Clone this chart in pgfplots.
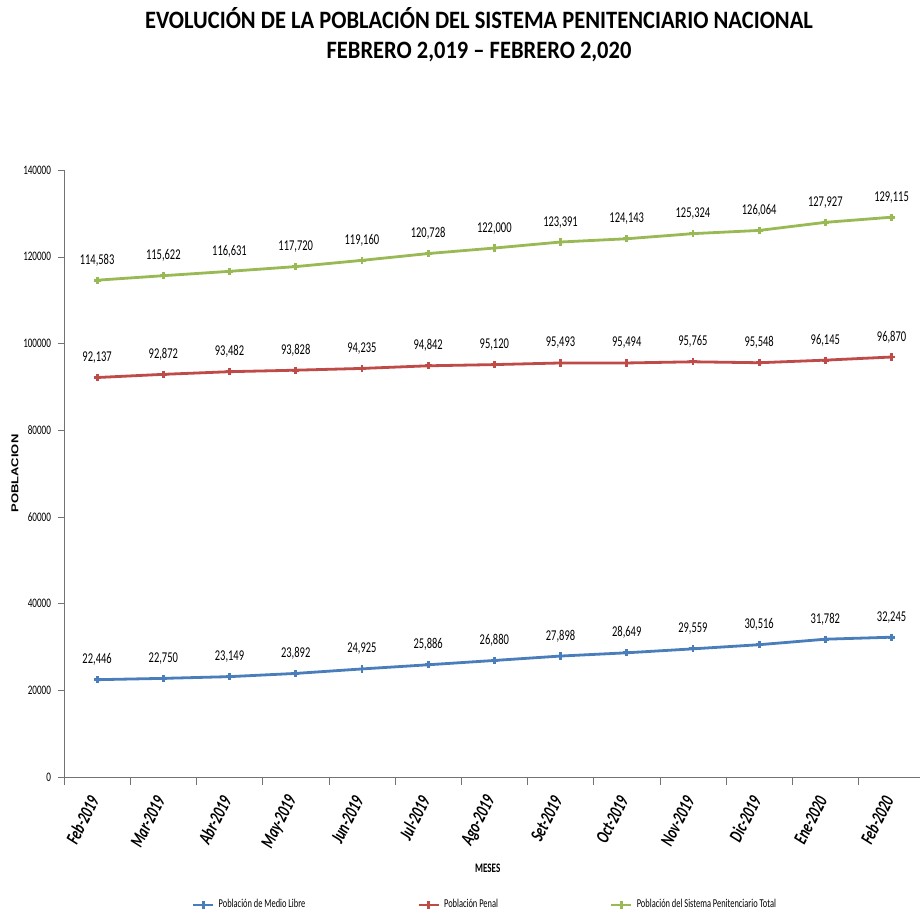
\documentclass[border=0pt]{standalone}
\usepackage{pgfplots}
\pgfplotsset{compat=1.18}
\usepackage{fontspec}
\setmainfont{Carlito}[FakeStretch=0.7]
\newfontfamily\titlefont{Carlito}[FakeStretch=0.9]
\newfontfamily\ylabfont{Liberation Sans}[FakeStretch=1.3]
\definecolor{cblue}{RGB}{74,126,187}
\definecolor{cred}{RGB}{190,75,72}
\definecolor{cgreen}{RGB}{152,185,84}
\begin{document}
\begin{tikzpicture}[x=1pt,y=1pt]
\path[use as bounding box] (0,0) rectangle (460,458.5);
\node[font=\titlefont\bfseries\fontsize{12.5}{15}\selectfont, align=center] at (239.5,441) {EVOLUCIÓN DE LA POBLACIÓN DEL SISTEMA PENITENCIARIO NACIONAL\\FEBRERO 2,019 – FEBRERO 2,020};
\begin{axis}[
  at={(32pt,70pt)}, anchor=south west,
  scale only axis, width=428pt, height=303.5pt,
  xmin=-0.5, xmax=12.43, ymin=0, ymax=140000,
  axis x line*=bottom, axis y line*=left,
  axis line style={draw=black!55, -},
  /pgf/number format/assume math mode=true,
  ytick={0,20000,...,140000}, scaled y ticks=false,
  yticklabel style={/pgf/number format/.cd, fixed, 1000 sep={}, assume math mode=true, /tikz/.cd, font=\fontsize{6.5}{7}\selectfont},
  xtick={0,...,12},
  xticklabels={Feb-2019,Mar-2019,Abr-2019,May-2019,Jun-2019,Jul-2019,Ago-2019,Set-2019,Oct-2019,Nov-2019,Dic-2019,Ene-2020,Feb-2020},
  xticklabel style={yshift=-4pt, rotate=63, anchor=east, font=\bfseries\itshape\fontsize{9.5}{10}\selectfont},
  minor xtick={-0.5,0.5,...,11.5},
  major x tick style={draw=none},
  tick style={draw=black!55},
  tick align=outside, major tick length=3pt, minor tick length=4pt,
  xlabel={MESES}, xlabel style={font=\bfseries\fontsize{6.5}{7}\selectfont, at={(axis description cs:0.495,0)}, anchor=center, yshift=-45.5pt},
  ylabel={POBLACION}, ylabel style={font=\ylabfont\bfseries\fontsize{5}{6}\selectfont, at={(axis description cs:0,0.5)}, anchor=center, yshift=24.5pt},
  nodes near coords={\pgfmathprintnumber[fixed,precision=0,1000 sep={,},assume math mode=true]{\pgfplotspointmeta}},
  every node near coord/.append style={font=\fontsize{7.5}{8}\selectfont, black, yshift=3pt},
  legend columns=3,
  legend style={draw=none, at={(axis description cs:0.493,0)}, anchor=center, yshift=-64pt, font=\fontsize{6}{7}\selectfont, /tikz/every even column/.append style={column sep=54pt}},
  legend image code/.code={\draw[mark repeat=2,mark phase=2,#1] plot coordinates {(0pt,0pt) (5pt,0pt) (10pt,0pt)};},
  clip=false,
]
\addplot[cblue, line width=1.4pt, mark=+, mark size=1.8pt] coordinates {
(0,22446) (1,22750) (2,23149) (3,23892) (4,24925) (5,25886) (6,26880) (7,27898) (8,28649) (9,29559) (10,30516) (11,31782) (12,32245)};
\addlegendentry{Población de Medio Libre}
\addplot[cred, line width=1.4pt, mark=+, mark size=1.8pt] coordinates {
(0,92137) (1,92872) (2,93482) (3,93828) (4,94235) (5,94842) (6,95120) (7,95493) (8,95494) (9,95765) (10,95548) (11,96145) (12,96870)};
\addlegendentry{Población Penal}
\addplot[cgreen, line width=1.4pt, mark=+, mark size=1.8pt] coordinates {
(0,114583) (1,115622) (2,116631) (3,117720) (4,119160) (5,120728) (6,122000) (7,123391) (8,124143) (9,125324) (10,126064) (11,127927) (12,129115)};
\addlegendentry{Población del Sistema Penitenciario Total}
\end{axis}
\end{tikzpicture}
\end{document}
